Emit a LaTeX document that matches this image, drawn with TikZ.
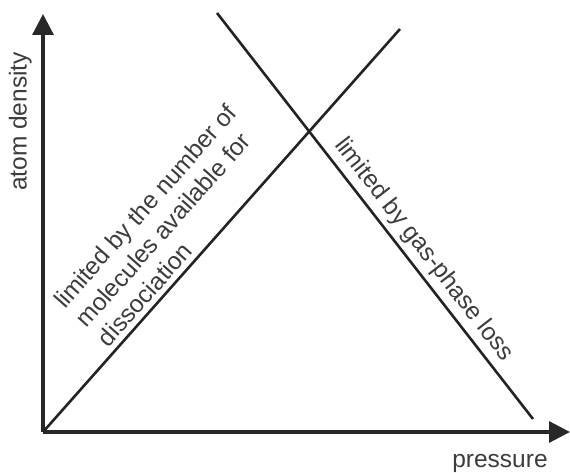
\documentclass[tikz,border=0pt]{standalone}
\usepackage{fontspec}
\setmainfont{Liberation Sans}
\usetikzlibrary{arrows.meta}

\begin{document}
\begin{tikzpicture}[x=1pt,y=1pt,
    axis/.style={line width=3.2pt, draw={rgb,255:red,40;green,40;blue,40}, -{Triangle[length=21pt,width=21pt]}},
    curve/.style={line width=2.6pt, draw={rgb,255:red,35;green,35;blue,35}},
    lbl/.style={inner sep=0pt, text={rgb,255:red,60;green,60;blue,60}, font=\fontsize{24.5}{29}\selectfont}]
    \useasboundingbox (0,0) rectangle (570,473);
    % axes
    \coordinate (O) at (43,41);
    \coordinate (ytip) at (43,459);
    \coordinate (xtip) at (570,41);
    \draw [axis] (O) -- (ytip);
    \draw [axis] (O) -- (xtip);
    \node [lbl, rotate=90, anchor=base] (ylab) at (26.5,351.5) {atom density};
    \node [lbl, anchor=base] (xlab) at (500,5.5) {pressure};
    % the two limits
    \coordinate (rise) at (400,444);
    \coordinate (fallA) at (217,460);
    \coordinate (fallB) at (533,54);
    \draw [curve] (O) -- (rise)
        node [lbl, pos=0.44, sloped, above=5pt, align=left] (molec) {limited by the number of\\molecules available for\\dissociation};
    \draw [curve] (fallA) -- (fallB)
        node [lbl, pos=0.61, sloped, above=5pt] (loss) {limited by gas-phase loss};
\end{tikzpicture}
\end{document}
